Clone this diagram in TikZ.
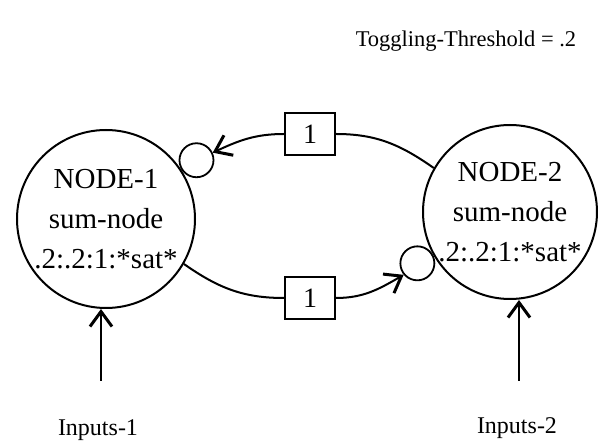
\documentclass[tikz,border=0pt]{standalone}
\usepackage{fontspec}
\setmainfont{Liberation Serif}
\usetikzlibrary{positioning,arrows.meta}

\begin{document}
\begin{tikzpicture}[x=1pt, y=1pt,
    unit/.style={draw, circle, line width=2pt, minimum size=178pt, inner sep=0pt,
                 font=\fontsize{29}{40}\selectfont, align=center},
    syn/.style={draw, circle, line width=1.8pt, minimum size=34pt, inner sep=0pt},
    delay/.style={draw, line width=2pt, minimum width=50pt, minimum height=42pt,
                  font=\fontsize{28}{30}\selectfont},
    wire/.style={line width=2pt},
    arrow/.style={line width=2pt, -{Straight Barb[length=15pt, width=22pt, line width=3pt]}},
    lbl/.style={font=\fontsize{24}{28}\selectfont},
]
\useasboundingbox (0,0) rectangle (598,447);
\node[lbl, font=\fontsize{22.5}{26}\selectfont] (thr) at (466,406) {Toggling-Threshold = .2};
\node[unit] (n1) at (106,228) {NODE-1\\sum-node\\.2:.2:1:*sat*};
\node[unit, minimum size=174pt] (n2) at (510,235) {NODE-2\\sum-node\\.2:.2:1:*sat*};
\node[syn, anchor=213] (s1) at (n1.33) {};
\node[syn, anchor=29] (s2) at (n2.209) {};
\node[delay] (d1) at (310,313) {1};
\node[delay] (d2) at (310,149) {1};
\draw[wire] (n2.150) to[out=145, in=0] (d1.east);
\draw[arrow] (d1.west) to[out=180, in=25] (s1.25);
\draw[wire] (n1.-30) to[out=-35, in=180] (d2.west);
\draw[arrow] (d2.east) to[out=0, in=210] (s2.220);
\node[lbl] (in1) at (98,17) {Inputs-1};
\node[lbl] (in2) at (517,19) {Inputs-2};
\coordinate (i1) at (101,66);
\coordinate (i2) at (519,66);
\draw[arrow] (i1) -- (i1 |- n1.south);
\draw[arrow] (i2) -- (i2 |- n2.south);
\end{tikzpicture}
\end{document}
